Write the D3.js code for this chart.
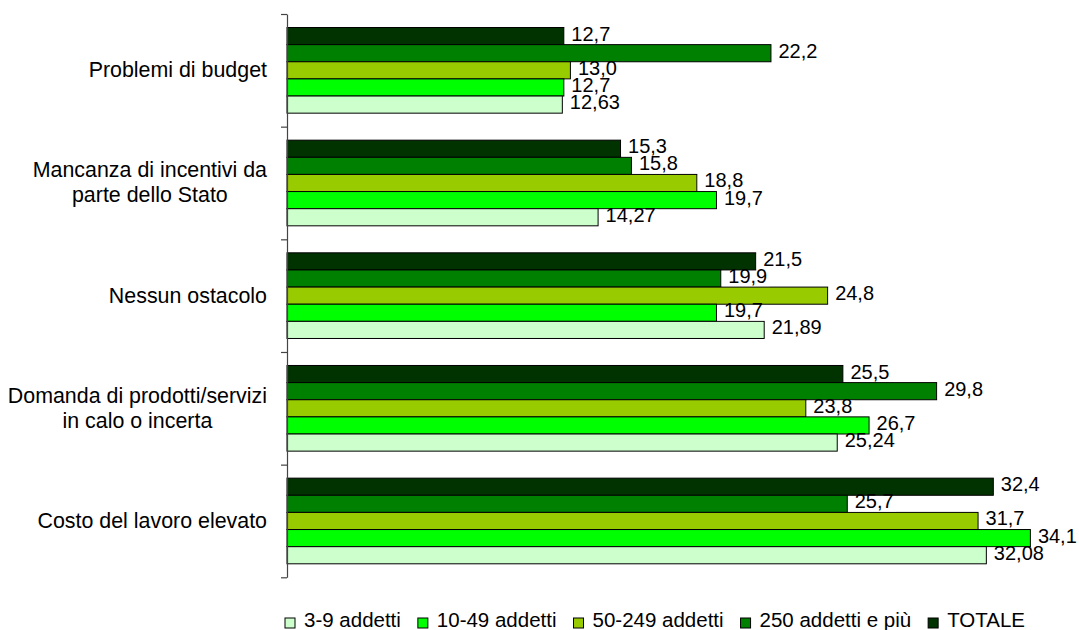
<!DOCTYPE html>
<html>
<head>
<meta charset="utf-8">
<script src="https://cdn.jsdelivr.net/npm/d3@7"></script>
<style>
  html, body { margin: 0; padding: 0; background: #fff; }
  svg { display: block; font-family: "Liberation Sans", Arial, sans-serif; }
</style>
</head>
<body>
<svg id="chart" width="1079" height="630"></svg>
<script>
// Categories (top to bottom), each split into its display lines
const categories = [
  "Problemi di budget",
  "Mancanza di incentivi da parte dello Stato",
  "Nessun ostacolo",
  "Domanda di prodotti/servizi in calo o incerta",
  "Costo del lavoro elevato"
];
const categoryLines = [
  ["Problemi di budget"],
  ["Mancanza di incentivi da", "parte dello Stato"],
  ["Nessun ostacolo"],
  ["Domanda di prodotti/servizi", "in calo o incerta"],
  ["Costo del lavoro elevato"]
];

// Series names in legend order
const seriesNames = ["3-9 addetti", "10-49 addetti", "50-249 addetti", "250 addetti e più", "TOTALE"];

// Values per series, one per category
const values3_9    = [12.63, 14.27, 21.89, 25.24, 32.08];
const values10_49  = [12.7, 19.7, 19.7, 26.7, 34.1];
const values50_249 = [13.0, 18.8, 24.8, 23.8, 31.7];
const values250    = [22.2, 15.8, 19.9, 29.8, 25.7];
const valuesTotale = [12.7, 15.3, 21.5, 25.5, 32.4];

const seriesValues = [values3_9, values10_49, values50_249, values250, valuesTotale];
const seriesDecimals = [2, 1, 1, 1, 1];
const seriesColors = ["#CCFFCC", "#00FF00", "#99CC00", "#008000", "#003300"];

// Within each group the bars run from TOTALE (top) to 3-9 (bottom)
const barOrder = [4, 3, 2, 1, 0];

const svg = d3.select("#chart");

const plotLeft = 287, plotTop = 14, plotBottom = 577.3;
const x = d3.scaleLinear().domain([0, 35]).range([plotLeft, plotLeft + 35 * 21.8]);
const y = d3.scaleBand().domain(categories).range([plotTop, plotBottom]).padding(0);
const groupPad = 13.5;
const yInner = d3.scaleBand().domain(barOrder).range([groupPad, y.bandwidth() - groupPad]).padding(0);

const fmt = (v, d) => v.toFixed(d).replace(".", ",");

// Bars
const rows = [];
categories.forEach((c, ci) => {
  barOrder.forEach(si => {
    rows.push({ cat: c, ci, si, v: seriesValues[si][ci] });
  });
});

svg.append("g")
  .selectAll("rect")
  .data(rows)
  .join("rect")
  .attr("x", x(0))
  .attr("y", d => y(d.cat) + yInner(d.si))
  .attr("width", d => x(d.v) - x(0))
  .attr("height", yInner.bandwidth())
  .attr("fill", d => seriesColors[d.si])
  .attr("stroke", "#000")
  .attr("stroke-width", 1);

// Category axis with ticks at group boundaries
const yEdge = d3.scaleLinear().domain([0, categories.length]).range([plotTop, plotBottom]);
const axisG = svg.append("g")
  .attr("transform", `translate(${plotLeft},0)`)
  .call(d3.axisLeft(yEdge).tickValues(d3.range(categories.length + 1)).tickFormat("").tickSizeInner(6).tickSizeOuter(0));
axisG.select(".domain").attr("stroke", "#444").attr("stroke-width", 1.2);
axisG.selectAll(".tick line").attr("stroke", "#444").attr("stroke-width", 1.2);

// Category labels: block right-aligned, lines centred within the block
const labelRight = 267;
const catFont = 21.4;
const lineGap = 25;
categories.forEach((c, ci) => {
  const lines = categoryLines[ci];
  const g = svg.append("g");
  const texts = lines.map(l => g.append("text").attr("font-size", catFont).attr("fill", "#000").text(l));
  const maxW = d3.max(texts, t => t.node().getComputedTextLength());
  const cx = labelRight - maxW / 2;
  const cy = y(c) + y.bandwidth() / 2;
  const firstBase = cy - (lines.length - 1) * lineGap / 2 + 7;
  texts.forEach((t, i) => {
    t.attr("x", cx).attr("text-anchor", "middle").attr("y", firstBase + i * lineGap);
  });
});

// Value labels with white background
const labelG = svg.append("g");
rows.forEach(d => {
  const by = y(d.cat) + yInner(d.si);
  const bh = yInner.bandwidth();
  const xEnd = x(d.v);
  const g = labelG.append("g");
  const bg = g.append("rect").attr("fill", "#fff");
  const t = g.append("text")
    .attr("x", xEnd + 7.5)
    .attr("y", by + bh / 2 + 4.5)
    .attr("font-size", 20)
    .attr("fill", "#000")
    .text(fmt(d.v, seriesDecimals[d.si]));
  const w = t.node().getComputedTextLength();
  bg.attr("x", xEnd + 1).attr("y", by + 1).attr("width", w + 9).attr("height", bh - 2);
});

// Legend: entries spread evenly between a fixed start and end
const legend = svg.append("g");
const legStart = 285, legEnd = 1025, ly = 618, sq = 10, sqToText = 19;
const items = seriesNames.map((name, i) => {
  const t = legend.append("text")
    .attr("y", ly + 9)
    .attr("font-size", 20.5)
    .attr("fill", "#000")
    .text(name);
  return { t, w: t.node().getComputedTextLength(), i };
});
const totalW = d3.sum(items, d => d.w) + items.length * sqToText;
const gap = (legEnd - legStart - totalW) / (items.length - 1);
let lx = legStart;
items.forEach(d => {
  legend.append("rect")
    .attr("x", lx).attr("y", ly)
    .attr("width", sq).attr("height", sq)
    .attr("fill", seriesColors[d.i])
    .attr("stroke", "#000").attr("stroke-width", 1);
  d.t.attr("x", lx + sqToText);
  lx += sqToText + d.w + gap;
});
</script>
</body>
</html>
